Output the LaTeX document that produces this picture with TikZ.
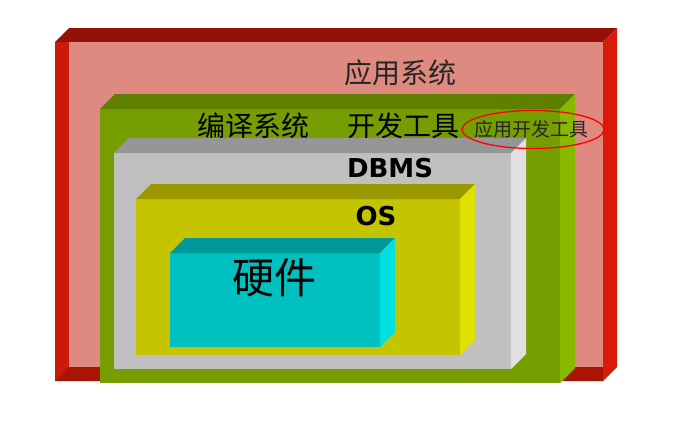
\documentclass[tikz,border=0pt]{standalone}
\usepackage{fontspec}
\newfontfamily\cjk{Noto Sans CJK SC}
\usetikzlibrary{shapes.geometric}

\definecolor{redtop}{HTML}{931106}
\definecolor{redside}{HTML}{DA1A0A}
\definecolor{redleft}{HTML}{CC1A0A}
\definecolor{redbottom}{HTML}{A81505}
\definecolor{pinkface}{HTML}{DE8A80}
\definecolor{greenface}{HTML}{779E00}
\definecolor{greentop}{HTML}{5F7F00}
\definecolor{greenside}{HTML}{88B800}
\definecolor{grayface}{HTML}{C0C0C0}
\definecolor{graytop}{HTML}{969696}
\definecolor{grayside}{HTML}{E0E0E0}
\definecolor{yellowface}{HTML}{C4C400}
\definecolor{yellowtop}{HTML}{9A9A00}
\definecolor{yellowside}{HTML}{E0E000}
\definecolor{cyanface}{HTML}{00C0C0}
\definecolor{cyantop}{HTML}{009898}
\definecolor{cyanside}{HTML}{00E0E0}

% box seen from the front: #1,#2 upper left, #3,#4 lower right, #5 depth
\newcommand{\cubebox}[8]{%
  \fill[#6] (#1,#2) rectangle (#3,#4);
  \fill[#7] (#1,#2) -- ++(#5,-#5) -- (#3+#5,#2-#5) -- (#3,#2) -- cycle;
  \fill[#8] (#3,#2) -- (#3+#5,#2-#5) -- (#3+#5,#4-#5) -- (#3,#4) -- cycle;
}

\tikzset{
  title/.style={inner sep=0pt, font=\cjk\fontsize{28}{28}\selectfont},
  boldlabel/.style={inner sep=0pt, font=\fontspec{DejaVu Sans Bold}\fontsize{26}{26}\selectfont},
  ring/.style={ellipse, draw=red, line width=1.3pt, minimum width=142pt,
    minimum height=38pt, inner sep=0pt},
  remark/.style={inner sep=0pt, text=black!85, font=\cjk\fontsize{19}{19}\selectfont}
}

\begin{document}
\begin{tikzpicture}[x=1pt,y=-1pt]
  \useasboundingbox[fill=white] (0,0) rectangle (686,432);

  % application system
  \cubebox{55}{42}{603}{381}{14}{redleft}{redtop}{redside}
  \fill[redbottom] (55,381) -- (69,367) -- (603,367) -- (603,381) -- cycle;
  \fill[pinkface] (69,42) rectangle (603,367);
  \node[title, text=black!85] (app) at (400,73) {应用系统};

  % compilers and tools
  \cubebox{100}{109}{560}{383}{15}{greenface}{greentop}{greenside}
  \node[title] (compile) at (253,126) {编译系统};
  \node[title] (devtool) at (403,126) {开发工具};

  % database
  \cubebox{114}{153}{511}{369}{15}{grayface}{graytop}{grayside}
  \node[boldlabel] (dbms) at (390,168) {DBMS};

  % operating system
  \cubebox{136}{199}{460}{355}{15}{yellowface}{yellowtop}{yellowside}
  \node[boldlabel] (os) at (376,216) {OS};

  % hardware
  \cubebox{170}{253}{380}{347}{15}{cyanface}{cyantop}{cyanside}
  \node[title, font=\cjk\fontsize{42}{42}\selectfont] (hw) at (274,278) {硬件};

  % marked tools
  \node[ring] (mark) at (533,129.5) {};
  \node[remark] (apptool) at (531,129) {应用开发工具};
\end{tikzpicture}
\end{document}
